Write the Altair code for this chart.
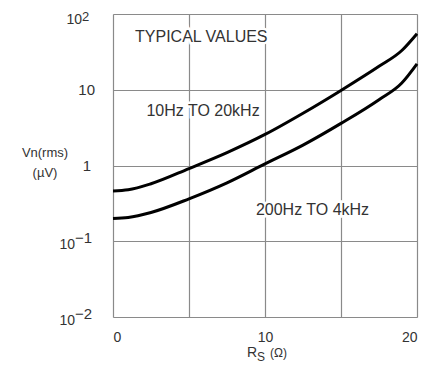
import altair as alt
import pandas as pd

rs = [0, 1, 2.5, 5, 7.5, 10, 12.5, 15, 17.5, 19, 20]
wide_band = [0.462, 0.479, 0.575, 0.912, 1.48, 2.57, 4.9, 9.8, 20.4, 33, 55]
narrow_band = [0.200, 0.206, 0.240, 0.363, 0.59, 1.05, 1.86, 3.6, 7.4, 12.3, 22]

x_ticks = [0, 5, 10, 15, 20]
y_ticks = [0.01, 0.1, 1, 10, 100]
y_tick_base = ["10", "10", "1", "10", "10"]
y_tick_exp = ["−2", "−1", "", "", "2"]

notes = ["TYPICAL VALUES", "10Hz TO 20kHz", "200Hz TO 4kHz"]
note_x = [1.45, 2.2, 9.4]
note_y = [50, 5.3, 0.26]

FONT = "Liberation Sans"
TXT = "#333333"
GRID = "#8a8a8a"
LEFT, TOP = 113, 14

rows = []
for r, a, b in zip(rs, wide_band, narrow_band):
    rows.append({"rs": r, "v": a, "band": "wide"})
    rows.append({"rs": r, "v": b, "band": "narrow"})
df = pd.DataFrame(rows)
notes_df = pd.DataFrame({"t": notes, "x": note_x, "y": note_y})

xs = alt.Scale(domain=[0, 20], nice=False, zero=False)
ys = alt.Scale(type="log", domain=[0.01, 100], nice=False)

lines = alt.Chart(df).mark_line(color="black", strokeWidth=3, interpolate="monotone").encode(
    x=alt.X("rs:Q", scale=xs, axis=alt.Axis(
        values=x_ticks, grid=True, gridColor=GRID, gridWidth=1.2, domain=False, ticks=False,
        labelExpr="datum.value % 10 == 0 ? datum.label : ''", labelPadding=13,
        labelFont=FONT, labelFontSize=14, labelColor=TXT, title=None)),
    y=alt.Y("v:Q", scale=ys, axis=alt.Axis(
        values=y_ticks, grid=True, gridColor=GRID, gridWidth=1.2, domain=False, ticks=False,
        labels=False, title=None)),
    detail="band:N",
)

halo = alt.Chart(notes_df).mark_text(align="left", baseline="middle", font=FONT, fontSize=16,
                                     stroke="white", strokeWidth=5, color="white").encode(
    x=alt.X("x:Q", scale=xs), y=alt.Y("y:Q", scale=ys), text="t:N")
txt = alt.Chart(notes_df).mark_text(align="left", baseline="middle", font=FONT, fontSize=16,
                                    color=TXT).encode(
    x=alt.X("x:Q", scale=xs), y=alt.Y("y:Q", scale=ys), text="t:N")


def label(text, px, py, size=13, align="center"):
    return alt.Chart(pd.DataFrame({"t": [text]})).mark_text(
        align=align, baseline="middle", font=FONT, fontSize=size, color=TXT).encode(
        x=alt.value(px - LEFT), y=alt.value(py - TOP), text="t:N")


# y tick labels (with real superscript exponents)
ylabels = []
for v, b, e in zip(y_ticks, y_tick_base, y_tick_exp):
    one = pd.DataFrame({"t": [b]})
    if e:
        neg = e.startswith("−")
        split = 75 if neg else 82
        ylabels.append(alt.Chart(one).mark_text(
            align="right", baseline="middle", font=FONT, fontSize=14, color=TXT,
            dy=4 if neg else 5.5).encode(
            x=alt.value(split - LEFT), y=alt.Y(datum=v, scale=ys), text="t:N"))
        ylabels.append(alt.Chart(pd.DataFrame({"t": [e]})).mark_text(
            align="left", baseline="middle", font=FONT, fontSize=15 if neg else 13, color=TXT,
            dy=-3.5 if neg else 3).encode(
            x=alt.value(split - LEFT), y=alt.Y(datum=v, scale=ys), text="t:N"))
    else:
        right = 95 if len(b) == 2 else 91
        ylabels.append(alt.Chart(one).mark_text(
            align="right", baseline="middle", font=FONT, fontSize=15, color=TXT).encode(
            x=alt.value(right - LEFT), y=alt.Y(datum=v, scale=ys), text="t:N"))

ytitle1 = label("Vn(rms)", 45, 153, 13)
ytitle2 = label("(µV)", 45, 173, 13)
xt_r = label("R", 257, 353, 14, "right")
xt_s = label("S", 257, 357, 12, "left")
xt_o = label("(Ω)", 270, 353, 12, "left")

chart = alt.layer(lines, halo, txt, *ylabels, ytitle1, ytitle2, xt_r, xt_s, xt_o).properties(
    width=304, height=303,
    autosize=alt.AutoSizeParams(type="none"),
    padding={"left": LEFT - 8, "top": TOP - 8, "right": 10, "bottom": 48},
).configure_view(stroke=GRID, strokeWidth=1.2).configure(background="white")

chart.save("out.html", embed_options={"renderer": "svg", "actions": False})
